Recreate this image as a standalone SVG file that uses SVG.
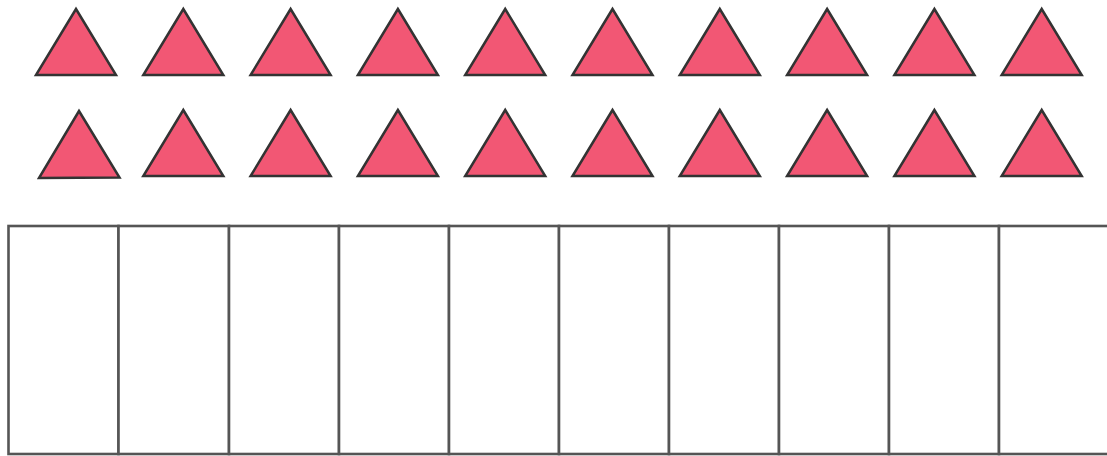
<svg xmlns="http://www.w3.org/2000/svg" width="1107" height="456" viewBox="0 0 1107 456">
<style>
.tri{fill:#f25774;stroke:#333;stroke-width:2.5;stroke-linejoin:miter}
.box{fill:#fff;stroke:#555;stroke-width:2.6}
</style>
<defs>
<polygon id="t" points="0,0 40,66 -40,66"/>
</defs>
<rect width="1107" height="456" fill="#fff"/>
<g id="row1">
<use href="#t" class="tri" x="76" y="9"/>
<use href="#t" class="tri" x="183.3" y="9"/>
<use href="#t" class="tri" x="290.6" y="9"/>
<use href="#t" class="tri" x="397.9" y="9"/>
<use href="#t" class="tri" x="505.2" y="9"/>
<use href="#t" class="tri" x="612.5" y="9"/>
<use href="#t" class="tri" x="719.8" y="9"/>
<use href="#t" class="tri" x="827.1" y="9"/>
<use href="#t" class="tri" x="934.4" y="9"/>
<use href="#t" class="tri" x="1041.7" y="9"/>
</g>
<g id="row2">
<polygon class="tri" points="79,111 119.5,177.5 39,178"/>
<use href="#t" class="tri" x="183.3" y="110"/>
<use href="#t" class="tri" x="290.6" y="110"/>
<use href="#t" class="tri" x="397.9" y="110"/>
<use href="#t" class="tri" x="505.2" y="110"/>
<use href="#t" class="tri" x="612.5" y="110"/>
<use href="#t" class="tri" x="719.8" y="110"/>
<use href="#t" class="tri" x="827.1" y="110"/>
<use href="#t" class="tri" x="934.4" y="110"/>
<use href="#t" class="tri" x="1041.7" y="110"/>
</g>
<g id="boxes">
<rect class="box" x="8.5" y="226" width="110" height="228"/>
<rect class="box" x="118.5" y="226" width="110.5" height="228"/>
<rect class="box" x="229" y="226" width="110" height="228"/>
<rect class="box" x="339" y="226" width="110" height="228"/>
<rect class="box" x="449" y="226" width="110" height="228"/>
<rect class="box" x="559" y="226" width="110" height="228"/>
<rect class="box" x="669" y="226" width="110" height="228"/>
<rect class="box" x="779" y="226" width="110" height="228"/>
<rect class="box" x="889" y="226" width="110" height="228"/>
<rect class="box" x="999" y="226" width="110" height="228"/>
</g>
</svg>
